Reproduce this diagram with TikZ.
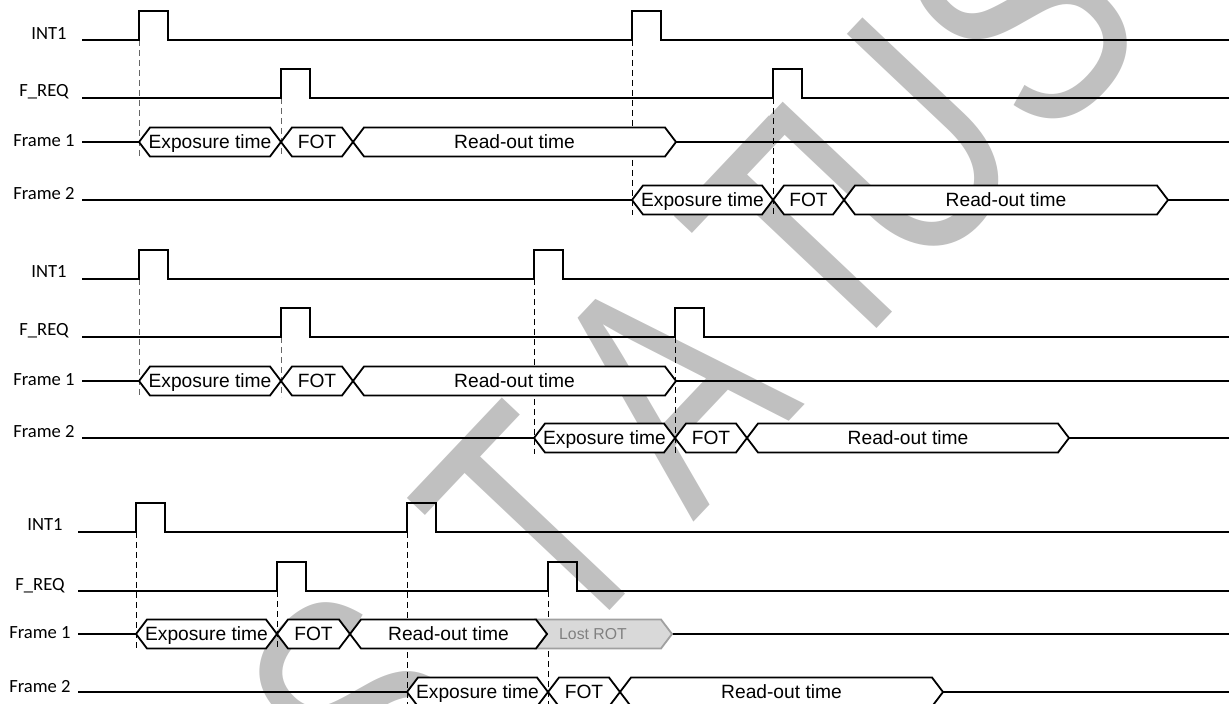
\documentclass[tikz,border=0pt]{standalone}
\usepackage{fontspec}
\setmainfont{Liberation Sans}
\newfontfamily\labelfont{Carlito}
\usetikzlibrary{calc}

\definecolor{wmgrey}{RGB}{192,192,192}
\definecolor{lostfill}{RGB}{217,217,217}
\definecolor{lostdraw}{RGB}{160,160,160}
\definecolor{losttext}{RGB}{128,128,128}

% hexagon value on a frame row: x from, x to, row y, text, name
\newcommand{\busval}[5]{%
  \draw[busline] (#1,#3) -- ({#1+11},{#3-14.5}) -- ({#2-11},{#3-14.5}) -- (#2,#3)
    -- ({#2-11},{#3+14.5}) -- ({#1+11},{#3+14.5}) -- cycle;
  \node[bustext] (#5) at ({(#1+#2)/2},{#3+6.8}) {#4};}

% signal row with two pulses: row y, start x, first pulse, second pulse
\newcommand{\pulserow}[4]{%
  \draw[sigline] (#2,#1) -- (#3,#1) -- ++(0,-29) -- ++(29,0) -- ++(0,29)
    -- (#4,#1) -- ++(0,-29) -- ++(29,0) -- ++(0,29) -- (1229,#1);}

\begin{document}
\begin{tikzpicture}[x=0.5pt, y=-0.5pt,
    sigline/.style={line width=0.9pt, line join=miter},
    busline/.style={line width=0.9pt, fill=white},
    bustext/.style={font=\fontsize{9.6}{11}\selectfont, inner sep=0pt, anchor=base},
    siglabel/.style={font=\labelfont\fontsize{9.3}{11}\selectfont, inner sep=0pt},
    guide/.style={line width=0.5pt, dash pattern=on 3pt off 2pt},
    wmark/.style={font=\fontsize{163}{163}\selectfont, text=wmgrey, inner sep=0pt, anchor=base}]
    \useasboundingbox (0,0) rectangle (1230,704);

    % Watermark behind the diagram
    \foreach \ch/\px/\py in {S/446/784, T/618/602, A/750/463, T/885/320, U/978/222, S/1102/91}
        \node[wmark, rotate=46.6, xscale=0.75] at (\px,\py) {\ch};

    % ---------- Case 1 ----------
    \node[siglabel, anchor=base east] (int1a) at (67,40) {INT1};
    \node[siglabel, anchor=base east] (freqa) at (69,97) {F\_REQ};
    \node[siglabel, anchor=east] (fra1) at (75,141) {Frame 1};
    \node[siglabel, anchor=base east] (fra2) at (75,200) {Frame 2};
    \draw[guide, black!60] (139,40) -- (139,157);
    \draw[guide, black!60] (281,98) -- (281,157);
    \draw[guide] (632,40) -- (632,215);
    \draw[guide] (773,98) -- (773,215);
    \pulserow{40}{82}{139}{632}
    \pulserow{98}{82}{281}{773}
    \draw[sigline] (82,142) -- (139,142) (676,142) -- (1229,142);
    \busval{139}{281}{142}{Exposure time}{expa1}
    \busval{281}{353}{142}{FOT}{fota1}
    \busval{353}{676}{142}{Read-out time}{rota1}
    \draw[sigline] (82,200) -- (632,200) (1168,200) -- (1229,200);
    \busval{632}{773}{200}{Exposure time}{expa2}
    \busval{773}{844}{200}{FOT}{fota2}
    \busval{844}{1168}{200}{Read-out time}{rota2}

    % ---------- Case 2 ----------
    \node[siglabel, anchor=base east] (int1b) at (67,278) {INT1};
    \node[siglabel, anchor=base east] (freqb) at (69,336) {F\_REQ};
    \node[siglabel, anchor=east] (frb1) at (75,380) {Frame 1};
    \node[siglabel, anchor=base east] (frb2) at (75,438) {Frame 2};
    \draw[guide, black!60] (139,279) -- (139,397);
    \draw[guide, black!60] (281,337) -- (281,397);
    \draw[guide] (534,279) -- (534,454);
    \draw[guide] (675,337) -- (675,454);
    \pulserow{279}{82}{139}{534}
    \pulserow{337}{82}{281}{675}
    \draw[sigline] (82,381) -- (139,381) (676,381) -- (1229,381);
    \busval{139}{281}{381}{Exposure time}{expb1}
    \busval{281}{353}{381}{FOT}{fotb1}
    \busval{353}{676}{381}{Read-out time}{rotb1}
    \draw[sigline] (82,438) -- (534,438) (1069,438) -- (1229,438);
    \busval{534}{675}{438}{Exposure time}{expb2}
    \busval{675}{747}{438}{FOT}{fotb2}
    \busval{747}{1069}{438}{Read-out time}{rotb2}

    % ---------- Case 3 ----------
    \node[siglabel, anchor=base east] (int1c) at (63,531) {INT1};
    \node[siglabel, anchor=base east] (freqc) at (65,590) {F\_REQ};
    \node[siglabel, anchor=east] (frc1) at (71,633) {Frame 1};
    \node[siglabel, anchor=base east] (frc2) at (71,692) {Frame 2};
    \draw[guide] (136,532) -- (136,650);
    \draw[guide] (277,591) -- (277,650);
    \draw[guide] (407,532) -- (407,704);
    \draw[guide] (548,591) -- (548,704);
    \pulserow{532}{78}{136}{407}
    \pulserow{591}{78}{277}{548}
    \draw[sigline] (78,634) -- (136,634) (672,634) -- (1229,634);
    % lost read-out, notched behind the read-out tip
    \draw[line width=0.9pt, draw=lostdraw, fill=lostfill] (536,619.5) -- (661,619.5) -- (672,634)
        -- (661,648.5) -- (536,648.5) -- (547,634) -- cycle;
    \node[bustext, font=\fontsize{7.9}{9}\selectfont, text=losttext] (lostc) at (593,639.6) {Lost ROT};
    \busval{136}{277}{634}{Exposure time}{expc1}
    \busval{277}{350}{634}{FOT}{fotc1}
    \busval{350}{547}{634}{Read-out time}{rotc1}
    \draw[sigline] (78,692) -- (407,692) (943,692) -- (1229,692);
    \busval{407}{548}{692}{Exposure time}{expc2}
    \busval{548}{620}{692}{FOT}{fotc2}
    \busval{620}{943}{692}{Read-out time}{rotc2}
\end{tikzpicture}
\end{document}
